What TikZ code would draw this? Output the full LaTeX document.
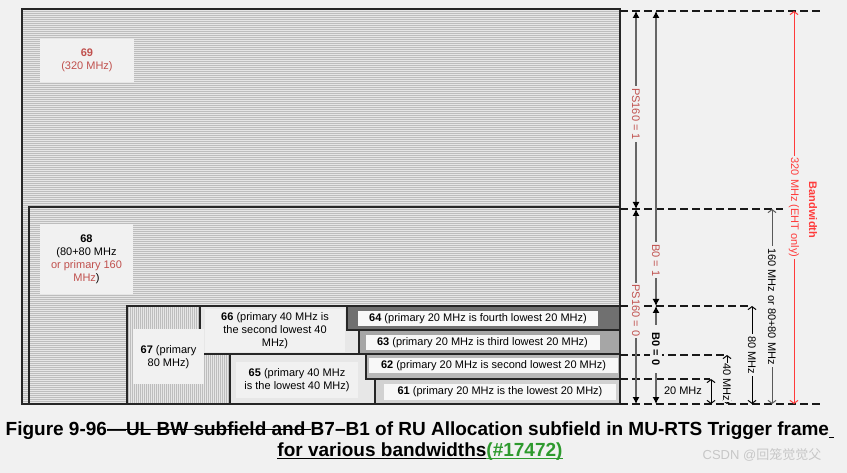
\documentclass[tikz,border=0pt]{standalone}
\usepackage{fontspec}
\setmainfont{Liberation Sans}
\newfontfamily\capfont{Liberation Sans}
\newfontfamily\cjkfont{Noto Sans CJK SC}
\usetikzlibrary{patterns.meta,arrows.meta}
\newcommand\capul[1]{\setbox0\hbox{#1}\rlap{\rule[-2.6pt]{\wd0}{1.2pt}}\box0}
\newcommand\capso[1]{\setbox0\hbox{#1}\rlap{\rule[5.2pt]{\wd0}{1.2pt}}\box0}
\definecolor{bg}{HTML}{F1F1F1}
\definecolor{lblred}{HTML}{C0504D}
\definecolor{brightred}{HTML}{FF3B3B}
\definecolor{capgreen}{HTML}{2E9A2E}
\definecolor{patbase}{HTML}{E6E6E6}
\definecolor{patline}{HTML}{BDBDBD}
\definecolor{g64}{HTML}{707070}
\definecolor{g63}{HTML}{A6A6A6}
\definecolor{g62}{HTML}{B8B8B8}
\definecolor{g61}{HTML}{D2D2D2}
\definecolor{wlab}{HTML}{F8F8F8}
\begin{document}
\begin{tikzpicture}[x=1pt,y=-1pt,
  font=\fontsize{11}{13}\selectfont,
  region/.style={draw=black!85, line width=1.1pt, anchor=north west, inner sep=0pt, outer sep=0pt},
  hpat/.style={preaction={fill=patbase}, pattern={Lines[angle=0,distance=2pt,line width=0.6pt]}, pattern color=patline},
  vpat/.style={preaction={fill=patbase}, pattern={Lines[angle=90,distance=2pt,line width=0.6pt]}, pattern color=patline},
  dpat/.style={preaction={fill=patbase!80!white}, pattern={Dots[distance=2pt,radius=0.45pt]}, pattern color=patline},
  lbl/.style={fill=bg, inner sep=1pt, align=center},
  wlbl/.style={fill=wlab, inner sep=1pt, minimum height=15pt},
  dimline/.style={dash pattern=on 8pt off 4pt, line width=1.2pt, black!90},
  solidarr/.style={line width=1.1pt, draw=black!60, {Latex[length=7pt,width=7pt,color=black]}-{Latex[length=7pt,width=7pt,color=black]}},
  openarr/.style={line width=1pt, {Straight Barb[length=3pt,width=8pt]}-{Straight Barb[length=3pt,width=8pt]}},
  vlbl/.style={rotate=-90, fill=bg, inner sep=2pt}]

\fill[bg] (0,0) rectangle (847,473);
\useasboundingbox (0,0) rectangle (847,473);

% regions
\node[region, hpat, line width=1.5pt, minimum width=598pt, minimum height=395pt] (r69) at (22,9) {};
\node[region, hpat, minimum width=591pt, minimum height=197pt] (r68) at (29,207) {};
\node[region, vpat, minimum width=493pt, minimum height=98pt] (r67) at (127,306) {};
\node[region, dpat, minimum width=420pt, minimum height=48pt] (r66) at (200,306) {};
\node[region, dpat, minimum width=390pt, minimum height=50pt] (r65) at (230,354) {};
\node[region, fill=g64, minimum width=273pt, minimum height=24pt] (r64) at (347,306) {};
\node[region, fill=g63, minimum width=261pt, minimum height=24pt] (r63) at (359,330) {};
\node[region, fill=g62, minimum width=254pt, minimum height=25pt] (r62) at (366,354) {};
\node[region, fill=g61, minimum width=245pt, minimum height=25pt] (r61) at (375,379) {};

% labels
\node[lbl, text=lblred, minimum width=94pt, minimum height=43pt] (t69) at (87,60.5) {\textbf{69}\\(320 MHz)};
\node[lbl, minimum width=93pt, minimum height=70pt] (t68) at (86.5,259) {\textbf{68}\\(80+80 MHz\\\textcolor{lblred}{or primary 160}\\\textcolor{lblred}{MHz})};
\node[lbl, minimum width=71pt, minimum height=55pt] (t67) at (168.5,357) {\textbf{67} (primary\\80 MHz)};
\node[lbl, minimum width=140pt, minimum height=43pt] (t66) at (275,330.5) {\textbf{66} (primary 40 MHz is\\the second lowest 40\\MHz)};
\node[lbl, minimum width=122pt, minimum height=36pt] (t65) at (297,380) {\textbf{65} (primary 40 MHz\\is the lowest 40 MHz)};
\node[wlbl, minimum width=240pt] (t64) at (478,318.5) {\textbf{64} (primary 20 MHz is fourth lowest 20 MHz)};
\node[wlbl, minimum width=234pt] (t63) at (482.5,343) {\textbf{63} (primary 20 MHz is third lowest 20 MHz)};
\node[wlbl, minimum width=249pt] (t62) at (493.5,366) {\textbf{62} (primary 20 MHz is second lowest 20 MHz)};
\node[wlbl, minimum width=232pt] (t61) at (500,392) {\textbf{61} (primary 20 MHz is the lowest 20 MHz)};

% dashed level lines
\coordinate (d0l) at (620,11);  \coordinate (d0r) at (822,11);
\coordinate (d1l) at (620,209); \coordinate (d1r) at (783,209);
\coordinate (d2l) at (620,306); \coordinate (d2r) at (748,306);
\coordinate (d3l) at (620,355); \coordinate (d3r) at (725,355);
\coordinate (d4l) at (620,379); \coordinate (d4r) at (710,379);
\coordinate (d5l) at (620,404); \coordinate (d5r) at (822,404);
\foreach \i in {0,...,5} \draw[dimline] (d\i l) -- (d\i r);

% dimension arrows
\coordinate (ps0) at (636,11); \coordinate (ps1) at (636,209); \coordinate (ps2) at (636,404);
\coordinate (b0a) at (656,11); \coordinate (b0b) at (656,306); \coordinate (b0c) at (656,404);
\coordinate (m20a) at (711,379); \coordinate (m20b) at (711,404);
\coordinate (m40a) at (727,355); \coordinate (m40b) at (727,404);
\coordinate (m80a) at (752,306); \coordinate (m80b) at (752,404);
\coordinate (m160a) at (772,209); \coordinate (m160b) at (772,404);
\coordinate (m320a) at (794,11); \coordinate (m320b) at (794,404);

\draw[solidarr] (ps0) -- node[vlbl, text=lblred, pos=0.52] (lps1) {PS160 = 1} (ps1);
\draw[solidarr] (ps1) -- node[vlbl, text=lblred, pos=0.52] (lps0) {PS160 = 0} (ps2);
\draw[solidarr] (b0a) -- node[vlbl, text=lblred, pos=0.845] (lb01) {B0 = 1} (b0b);
\draw[solidarr] (b0b) -- node[vlbl, font=\fontsize{11}{13}\selectfont\bfseries, pos=0.44, inner ysep=2pt, inner xsep=8pt] (lb00) {B0 = 0} (b0c);
\draw[openarr] (m20a) -- (m20b);
\node (l20) at (683,391) {20 MHz};
\draw[openarr] (m40a) -- node[vlbl, pos=0.56, inner sep=0.5pt] (l40) {40 MHz} (m40b);
\draw[openarr] (m80a) -- node[vlbl, pos=0.5] (l80) {80 MHz} (m80b);
\draw[openarr, draw=black!65] (m160a) -- node[vlbl, pos=0.5] (l160) {160 MHz or 80+80 MHz} (m160b);
\draw[openarr, draw=brightred] (m320a) -- node[vlbl, text=brightred, pos=0.5] (l320) {320 MHz (EHT only)} (m320b);
\node[rotate=-90, text=brightred, font=\fontsize{11}{13}\selectfont\bfseries] (bw) at (813,210) {Bandwidth};

% caption
\node[font=\capfont\bfseries\fontsize{19}{21}\selectfont, align=center, inner sep=0pt] (cap) at (420,441)
  {Figure 9-96\capso{—UL BW subfield and }B7–B1 of RU Allocation subfield in MU-RTS Trigger frame\capul{\ }\\
   \capul{for various bandwidths}\textcolor{capgreen}{\capul{(\#17472)}}};
\node[text=black!22, font=\fontsize{13}{15}\selectfont] (wm) at (762,455) {CSDN @{\cjkfont 回笼觉觉父}};
\end{tikzpicture}
\end{document}
